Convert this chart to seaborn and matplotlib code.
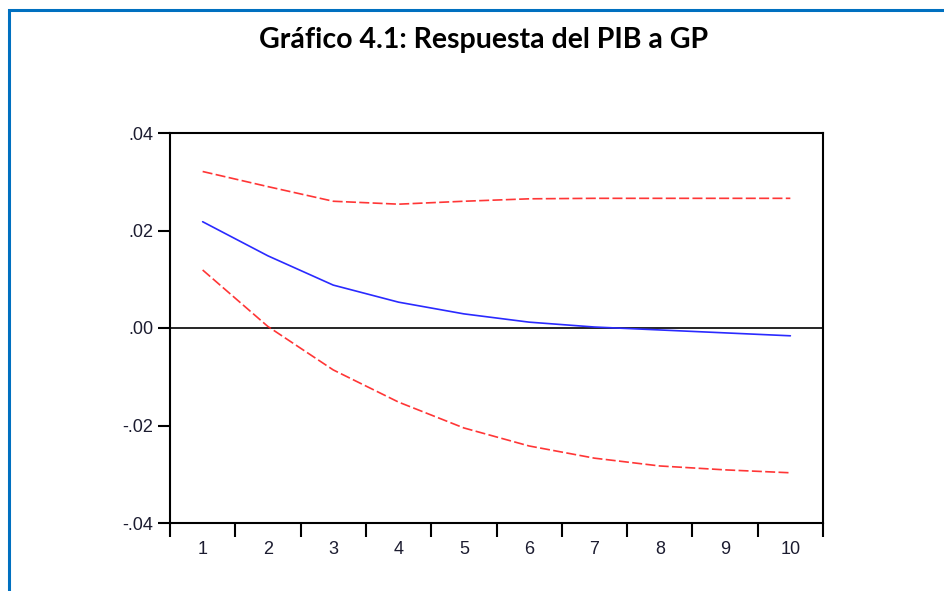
import matplotlib
matplotlib.use("Agg")
import matplotlib.pyplot as plt
import seaborn as sns
import pandas as pd
from matplotlib.patches import Rectangle

periods = [1, 2, 3, 4, 5, 6, 7, 8, 9, 10]
response = [0.0218, 0.0148, 0.0088, 0.0053, 0.0029, 0.0012, 0.0002, -0.0004, -0.0010, -0.0016]
upper_band = [0.0321, 0.0290, 0.0260, 0.0254, 0.0260, 0.0265, 0.0266, 0.0266, 0.0266, 0.0266]
lower_band = [0.0119, 0.0003, -0.0086, -0.0152, -0.0205, -0.0242, -0.0267, -0.0283, -0.0291, -0.0297]
y_ticks = [-0.04, -0.02, 0.0, 0.02, 0.04]
y_tick_labels = ["-.04", "-.02", ".00", ".02", ".04"]
title = "Gráfico 4.1: Respuesta del PIB a GP"

sns.set_theme(style="white")
plt.rcParams['font.family'] = ['Liberation Sans', 'DejaVu Sans']

df = pd.DataFrame({"period": periods, "response": response,
                   "upper": upper_band, "lower": lower_band})

fig = plt.figure(figsize=(9.44, 5.91), dpi=100)
ax = fig.add_axes([170/944, 1 - 523/591, (823 - 170)/944, (523 - 133)/591])

sns.lineplot(data=df, x="period", y="upper", ax=ax, color="#ff2020",
             linewidth=1.2, linestyle=(0, (6, 2)), alpha=0.9)
sns.lineplot(data=df, x="period", y="lower", ax=ax, color="#ff2020",
             linewidth=1.2, linestyle=(0, (6, 2)), alpha=0.9)
sns.lineplot(data=df, x="period", y="response", ax=ax, color="#2a2aff",
             linewidth=1.2)
ax.axhline(0, color="black", linewidth=1.2, zorder=1)

ax.set_xlim(0.5, 10.5)
ax.set_ylim(-0.04, 0.04)
ax.set_yticks(y_ticks)
ax.set_yticklabels(y_tick_labels)
ax.set_xticks(periods)
ax.set_xticklabels([str(p) for p in periods])
ax.set_xticks([p + 0.5 for p in [0] + periods], minor=True)
ax.tick_params(axis="x", which="major", length=0, pad=13, labelsize=13, labelcolor="#1c1c30")
ax.tick_params(axis="x", which="minor", length=10, width=1.5, color="black", direction="out", bottom=True)
ax.tick_params(axis="y", which="major", length=9, width=1.5, color="black", direction="out", left=True,
               labelsize=13, labelcolor="#1c1c30", pad=3)
ax.set_xlabel("")
ax.set_ylabel("")
for s in ax.spines.values():
    s.set_visible(True)
    s.set_color("black")
    s.set_linewidth(1.5)

fig.text(484/944, 1 - 40/591, title, ha="center", va="center",
         fontsize=20.5, fontweight="bold", family=["Lato", "DejaVu Sans"], color="black")

border = Rectangle((9/944, -0.2), 1.2, 1 - 10/591 + 0.2, transform=fig.transFigure,
                   fill=False, edgecolor="#0070C0", linewidth=2.2, clip_on=False)
fig.patches.append(border)

fig.savefig("out.png", dpi=100)
